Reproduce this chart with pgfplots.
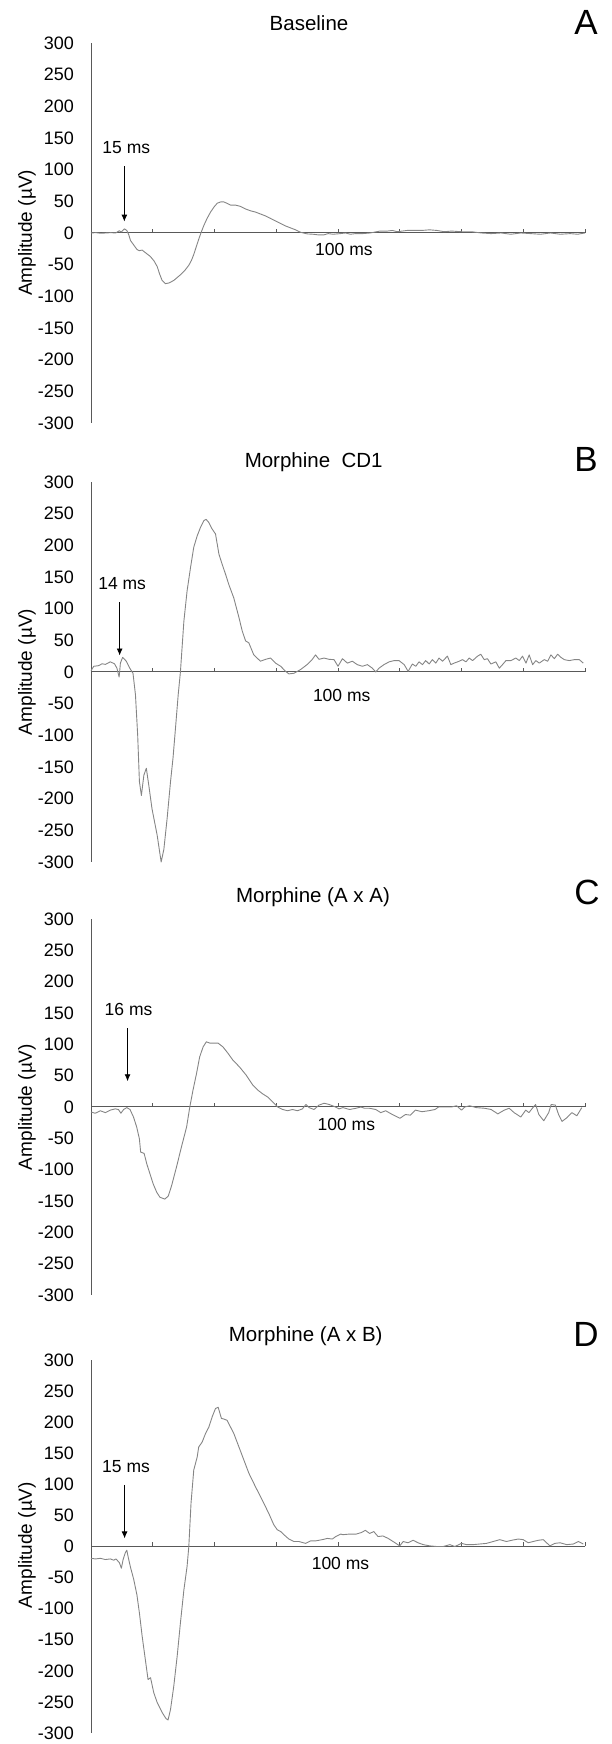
\documentclass[border=0pt]{standalone}
\usepackage{pgfplots}
\pgfplotsset{compat=1.18}
\usepackage{fontspec}
\setmainfont{Liberation Sans}
\usetikzlibrary{arrows.meta}
\pgfplotsset{
  ep/.style={
    scale only axis, width=494pt, anchor=south west,
    xmin=0, xmax=200, ymin=-300, ymax=300,
    axis x line=middle, axis y line=left,
    axis line style={-, line width=1pt, color=black!65},
    xtick={25,50,...,200}, xticklabels={},
    ytick={-300,-250,...,300},
    yticklabels={-300,-250,-200,-150,-100,-50,0,50,100,150,200,250,300},
    ytick style={draw=none},
    xtick style={line width=0.9pt, color=black!65},
    tick align=inside, major tick length=4pt,
    yticklabel style={font=\fontsize{18}{18}\selectfont, anchor=east, inner sep=0pt, xshift=-17pt},
    clip=false,
  },
  trace/.style={color=black!48, line width=0.9pt, line join=round, mark=none},
}
\tikzset{
  arr/.style={-{Latex[length=7pt,width=6pt]}, line width=0.9pt, black},
  ann/.style={font=\fontsize{17.5}{18}\selectfont, inner sep=0pt},
  ttl/.style={font=\fontsize{20.5}{22}\selectfont, anchor=base, inner sep=0pt},
  let/.style={font=\fontsize{35}{36}\selectfont, anchor=base, inner sep=0pt},
  ylab/.style={font=\fontsize{19}{19}\selectfont, rotate=90, inner sep=0pt},
}
\begin{document}
\begin{tikzpicture}
\path[use as bounding box] (0pt,0pt) rectangle (611pt,1744pt);

% ---------------- Panel A ----------------
\node[ttl] at (309pt,1713.3pt) {Baseline};
\node[let] at (586pt,1709pt) {A};
\node[ylab] at (27pt,1511pt) {Amplitude (µV)};
\begin{axis}[ep, at={(91pt,1321pt)}, height=380pt]
\addplot[trace] coordinates {(0,0)(2,0.5)(4,-0.5)(6,0)(8,0.5)(10,0)(10.8,2)(11.5,3.5)(12.2,1.5)(13.5,6.5)(14.5,4)(15.3,-3)(16,-12)(17.5,-20)(18.6,-26)(19.5,-28)(20.7,-27)(22,-31)(24,-37)(25.5,-44)(26.8,-53)(27.8,-65)(28.8,-75)(30.1,-80)(31.5,-79)(33.5,-75)(36.2,-66)(38,-59)(39.6,-51)(40.7,-43)(41.6,-34)(42.6,-22)(43.6,-10)(44.7,2)(45.7,12)(47,23)(48.4,33)(49.8,41)(51.1,47)(52.5,49)(53.8,49)(55,47)(56.5,44)(58.5,44)(60.5,42)(62.5,38)(64.6,35)(66.6,33)(68.6,30)(70.6,27)(72.7,23)(74.7,19)(76.8,15)(78.8,11)(80.8,8)(82.8,5)(84.9,1)(87.6,-1.5)(90,-2)(92,-3)(94.3,-3)(96,-1)(98,-2)(101,-1)(103,0)(105,-2)(107,-1)(110,-1)(113,0)(117,3)(120,3)(122,4)(124,2)(126,3)(128,4)(130,4)(134,4)(137,5)(140,4)(143,2)(146,3)(150,2)(154,2)(158,0)(162,-1)(166,0)(170,-2)(174,0)(178,-1)(182,-2)(186,0)(190,-2)(194,-1)(197,-2)(200,0)};
\draw[arr] (axis cs:13.5,105) -- (axis cs:13.5,18);
\node[ann] at (axis cs:14.3,135) {15 ms};
\node[ann] at (axis cs:102.4,0) [yshift=-16.4pt] {100 ms};
\end{axis}

% ---------------- Panel B ----------------
\node[ttl] at (313.7pt,1276pt) {Morphine\ \ CD1};
\node[let] at (586pt,1272pt) {B};
\node[ylab] at (27pt,1072pt) {Amplitude (µV)};
\begin{axis}[ep, at={(91pt,882pt)}, height=380pt]
\addplot[trace] coordinates {(0,2)(1.1,9)(3.1,10)(4.5,13)(5.8,12)(7.8,16)(9.5,13)(10.5,6)(11.4,-8)(11.9,14)(12.8,23)(14.3,17)(15.7,6)(17,-2)(18,-36)(18.9,-100)(19.6,-173)(20.4,-195)(21.4,-163)(22.4,-152)(23.4,-179)(24.7,-216)(26.8,-258)(28.4,-300)(29.5,-280)(30.8,-232)(32.2,-173)(33.2,-136)(34.2,-89)(35.3,-36)(36.2,0)(37.6,80)(38.9,128)(40.3,165)(41.6,197)(43,215)(44.3,228)(45.7,239)(46.6,241)(47.7,236)(49,226)(50.4,218)(51.8,186)(53.1,170)(54.5,154)(55.8,138)(57.8,117)(59.9,86)(61.2,65)(62.6,49)(63.9,46)(65.9,27)(68.6,17)(70.7,20)(72.7,22)(74.7,14)(76.8,9)(78.8,1)(80.1,-3)(82.2,-2)(84.9,4)(87.6,12)(89.6,20)(90.9,27)(92.3,20)(94.3,22)(96.4,20)(98.4,19.5)(100,9)(101.8,21)(103.8,14)(105.8,17)(107.8,11.6)(109.9,9)(111.9,11.6)(113.9,6)(115.3,0)(116.6,6)(118.6,11.6)(120.7,16)(122.7,18)(124.7,18)(126.8,11.6)(128.4,1)(130.1,12.6)(131.5,9)(132.8,16)(134.2,11.6)(135.5,18)(136.9,12.6)(138.2,19.5)(139.6,14)(140.9,22)(142.3,17)(144.3,25)(145.7,11.6)(147,14)(149.1,17)(150.4,19.5)(151.8,16)(153.1,22)(154.5,18)(156.5,25)(157.8,28)(159.2,19.5)(160.5,21)(161.9,12.6)(163.9,16)(165.3,6)(166.6,11.6)(168,18)(170,18)(172,22)(173.4,18)(174.7,25)(176.1,14)(177.4,27)(178.8,11.6)(180.1,18)(181.5,14)(183.5,19.5)(184.9,17)(186.2,27)(187.6,21)(188.9,28)(190.3,23)(191.6,19.5)(193.6,18)(195.7,19.5)(197.7,19.5)(199.3,14)};
\draw[arr] (axis cs:11.6,110) -- (axis cs:11.6,26);
\node[ann] at (axis cs:12.6,139) {14 ms};
\node[ann] at (axis cs:101.5,0) [yshift=-23.5pt] {100 ms};
\end{axis}

% ---------------- Panel C ----------------
\node[ttl] at (313pt,841pt) {Morphine (A x A)};
\node[let] at (587pt,839pt) {C};
\node[ylab] at (27pt,637pt) {Amplitude (µV)};
\begin{axis}[ep, at={(91pt,449pt)}, height=376pt]
\addplot[trace] coordinates {(0,-8)(1.7,-10)(3.8,-6)(5.8,-9)(7.8,-5)(9.8,-3)(11.1,-4)(12.1,-10)(13.2,-4)(14.5,-1)(15.8,-4)(17.2,-16)(18.5,-32)(19.6,-51)(20.1,-72)(21.5,-74)(22.6,-91)(23.9,-107)(25.2,-123)(26.6,-136)(27.9,-144)(29.9,-147)(31.3,-142)(32.6,-126)(34.6,-96)(36.6,-64)(38.7,-32)(40,0)(41.3,27)(42.7,53)(44,80)(45.4,96)(46.7,104)(48.1,102)(49.4,102)(51.4,102)(53.4,96)(55.4,86)(57.4,75)(60.1,64)(62.8,51)(65.5,35)(67.5,27)(69.5,21)(71.5,16)(73.6,8)(75.6,0)(77.6,-4)(79.6,-6)(81.6,-4)(83.6,-6)(85.6,-3)(87,4)(88.3,-1)(90.3,-4)(92.3,3)(94.4,6)(96.4,4)(98.4,1)(100.4,-3)(102,-1)(104.7,-4)(107.3,-2)(109.3,0)(110.7,-2)(112.7,-2)(115.3,-4)(117.3,-9)(119.3,-6)(122,-12)(125.1,-18)(127.3,-12)(129.3,-13)(131.3,-5)(134,-7.5)(136.7,-6)(139.3,-4)(140.7,0)(146,0)(148,2)(150,-5)(151.3,0)(153.3,2)(156,-1)(159.3,-2)(162,-4)(164.7,-11)(167.3,-5)(169.3,-2)(171.3,-9)(174,-16)(176,-5)(177.3,-9)(178.7,-2)(180,4)(181.3,-12)(183.3,-22)(185.3,-9)(186.3,4)(188,3)(189.3,-12)(190.7,-23)(192.7,-17)(194.7,-9)(196.7,-14)(198.7,-1)};
\draw[arr] (axis cs:14.8,126) -- (axis cs:14.8,41);
\node[ann] at (axis cs:15.2,155) {16 ms};
\node[ann] at (axis cs:103.4,0) [yshift=-17.6pt] {100 ms};
\end{axis}

% ---------------- Panel D ----------------
\node[ttl] at (305.7pt,402pt) {Morphine (A x B)};
\node[let] at (586pt,397pt) {D};
\node[ylab] at (27pt,199pt) {Amplitude (µV)};
\begin{axis}[ep, at={(91pt,11pt)}, height=373pt]
\addplot[trace] coordinates {(0,-19)(1.8,-20)(3.8,-19)(5.8,-21)(7.8,-20)(9.2,-22)(10.1,-20)(11.5,-26)(12.3,-35)(13,-21)(13.9,-10)(14.5,-6)(15,-16)(15.9,-32)(17.3,-53)(18.6,-78)(19.6,-107)(20.7,-144)(22,-182)(23.1,-214)(24.1,-211)(25.4,-235)(26.8,-251)(28.8,-267)(30.4,-277)(31.2,-279)(32.2,-262)(33.5,-225)(34.9,-176)(36.2,-123)(37.6,-70)(38.9,-32)(39.6,0)(40.5,70)(41.6,123)(43,144)(43.6,160)(45,168)(46.4,182)(47.7,192)(49.1,209)(50.4,222)(51.5,224)(52,217)(52.8,206)(53.8,205)(55.1,203)(56.5,192)(57.8,182)(59.9,160)(61.9,139)(63.9,118)(66.6,96)(69.3,75)(72,53)(74,35)(75.4,27)(76.8,24)(78.1,19)(80.1,12)(82.2,8)(84.2,8)(86.9,5)(88.9,9)(90.9,9)(93.6,11)(95.7,13)(97.7,12)(99.1,16)(101.1,20)(102,19)(104.7,20)(107.4,20)(109.5,22.5)(111.1,26)(112.8,21)(114.5,24)(116.2,16)(118.2,17)(120.3,13)(122.3,8)(125,1)(126.4,8)(128.4,6)(130.4,10)(132.4,6)(134.5,3)(137.2,1)(139.9,0)(142.6,0)(145.3,3)(147.3,0)(150,5)(152,3)(154.7,3)(157.4,4)(160.1,5)(162.8,8)(165.5,11)(168.2,8)(170.3,10)(173,12)(175,11)(177,6)(179,8)(181.1,10)(183.1,11)(185.8,1)(187.8,5)(189.9,6)(192.6,3)(195.3,4)(197.3,8)(199.3,4)};
\draw[arr] (axis cs:13.6,99) -- (axis cs:13.6,13);
\node[ann] at (axis cs:14.2,129) {15 ms};
\node[ann] at (axis cs:101,0) [yshift=-16.7pt] {100 ms};
\end{axis}
\end{tikzpicture}
\end{document}
